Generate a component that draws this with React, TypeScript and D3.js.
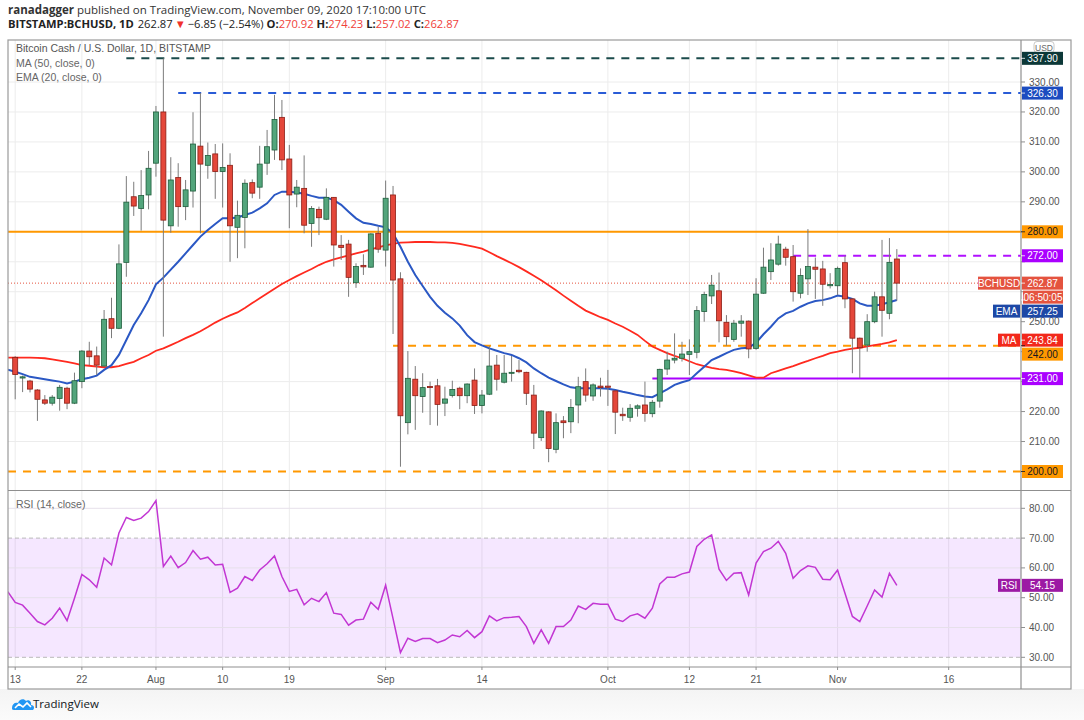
import React from "react";
import * as d3 from "d3";

// ---------- data ----------
const candleStart = "2020-07-13";
const indicatorStart = "2020-07-12";

const opens = [
  238.1, 231.2, 230.2, 227.2, 223.9, 222.8, 224.4, 227.8, 222.8, 230.0,
  240.2, 238.6, 235.2, 251.0, 247.8, 269.8, 291.7, 287.8, 292.3, 302.9,
  320.0, 282.0, 298.1, 288.4, 293.6, 308.6, 302.2, 306.0, 300.1, 302.2,
  281.5, 284.8, 296.4, 294.9, 302.9, 307.3, 318.2, 304.3, 292.6, 294.5,
  282.8, 287.5, 284.2, 291.5, 275.5, 275.9, 263.0, 268.8, 268.2, 279.5,
  273.9, 292.3, 264.3, 216.3, 230.8, 225.0, 228.4, 228.6, 222.8, 225.4,
  227.8, 225.3, 230.5, 222.0, 225.8, 235.5, 229.8, 232.8, 233.8, 233.1,
  225.5, 211.3, 219.9, 207.4, 216.9, 216.6, 222.2, 230.0, 225.2, 228.5,
  228.5, 226.9, 219.1, 218.1, 221.1, 222.2, 219.3, 223.5, 234.2, 237.2,
  237.8, 239.1, 239.8, 253.4, 258.6, 260.3, 249.8, 244.1, 249.5, 250.2,
  241.1, 259.5, 266.7, 269.2, 274.2, 271.7, 259.5, 264.3, 268.2, 267.6,
  262.0, 262.0, 269.7, 257.6, 244.5, 242.2, 250.0, 258.3, 252.8, 270.92,
];
const highs = [
  238.5, 232.0, 230.6, 227.5, 225.5, 225.5, 228.9, 228.3, 233.0, 240.5,
  243.3, 241.7, 253.9, 258.0, 275.8, 298.6, 296.7, 300.6, 307.0, 322.0,
  337.9, 304.9, 302.9, 297.3, 319.9, 326.3, 309.8, 309.3, 309.5, 306.2,
  290.4, 297.5, 297.5, 308.7, 314.0, 325.7, 324.0, 309.0, 297.3, 305.5,
  288.6, 288.4, 294.5, 291.6, 278.9, 277.3, 269.5, 272.5, 279.5, 281.7,
  297.1, 295.3, 266.5, 240.2, 235.2, 232.8, 230.0, 230.9, 228.3, 230.3,
  228.3, 229.4, 234.4, 227.2, 241.9, 238.9, 238.9, 238.6, 237.2, 233.3,
  228.9, 220.4, 220.1, 219.4, 218.5, 224.2, 231.6, 234.4, 229.4, 231.3,
  233.9, 227.1, 221.3, 222.5, 222.4, 230.0, 223.9, 234.3, 240.0, 246.1,
  243.3, 244.1, 255.2, 260.0, 265.6, 266.4, 252.2, 250.6, 252.2, 250.4,
  264.5, 274.7, 276.2, 278.7, 275.0, 275.6, 267.8, 280.9, 271.4, 270.3,
  266.2, 268.4, 272.0, 257.8, 244.7, 252.5, 260.0, 277.3, 277.9, 274.23,
];
const lows = [
  224.1, 226.5, 226.4, 216.9, 222.2, 222.0, 220.3, 220.8, 222.5, 227.8,
  235.5, 232.2, 235.0, 244.5, 247.5, 265.0, 285.3, 280.4, 287.5, 298.4,
  245.0, 279.7, 281.7, 283.9, 288.1, 279.5, 297.7, 291.0, 288.1, 270.0,
  271.2, 274.5, 291.2, 291.0, 299.0, 304.0, 300.6, 281.2, 288.2, 279.5,
  275.0, 278.9, 283.9, 268.4, 270.6, 258.3, 261.3, 265.6, 268.0, 273.0,
  268.4, 245.9, 201.6, 212.4, 213.9, 219.6, 215.5, 215.3, 218.5, 224.7,
  220.8, 222.8, 219.2, 219.4, 225.5, 227.0, 229.4, 230.0, 232.8, 222.2,
  207.5, 210.2, 203.1, 206.1, 211.1, 212.8, 216.1, 223.3, 223.6, 225.0,
  221.9, 212.5, 216.9, 216.6, 218.3, 216.6, 218.1, 221.3, 232.2, 236.1,
  236.7, 232.2, 237.8, 250.0, 255.9, 243.1, 242.0, 243.3, 245.0, 237.8,
  240.6, 259.3, 263.9, 268.7, 268.7, 256.7, 257.8, 258.9, 257.6, 255.3,
  261.1, 258.9, 254.5, 232.8, 231.1, 240.0, 249.5, 245.0, 250.8, 257.02,
];
const closes = [
  232.4, 231.6, 227.5, 224.1, 222.8, 224.8, 228.1, 222.8, 230.3, 240.2,
  238.3, 235.5, 250.8, 247.8, 269.3, 289.9, 288.6, 292.1, 301.2, 320.0,
  283.9, 297.3, 288.4, 294.0, 309.3, 302.6, 305.5, 300.1, 301.5, 282.0,
  285.5, 296.2, 292.9, 302.6, 308.4, 317.5, 304.0, 292.3, 294.9, 282.2,
  287.8, 284.7, 291.5, 275.6, 274.8, 264.8, 268.4, 268.3, 279.3, 274.2,
  291.2, 263.9, 218.6, 231.1, 225.3, 228.0, 228.0, 222.4, 224.2, 227.4,
  225.3, 229.2, 222.0, 225.5, 235.2, 230.8, 232.8, 233.1, 233.3, 226.1,
  212.8, 220.2, 207.7, 216.3, 216.3, 221.4, 228.3, 225.5, 228.9, 228.0,
  228.1, 219.8, 218.6, 221.1, 221.9, 219.4, 223.1, 234.1, 237.2, 237.8,
  239.2, 240.0, 253.7, 259.1, 262.2, 250.3, 245.0, 249.5, 250.2, 240.9,
  259.2, 268.2, 270.6, 275.9, 271.5, 260.0, 265.4, 268.4, 267.5, 262.5,
  262.4, 267.8, 257.6, 244.5, 241.3, 250.0, 258.3, 253.8, 269.8, 262.87,
];
// indicators start one day earlier (Jul 12)
const ema20 = [
  234.0,
  233.3, 232.5, 231.6, 231.2, 230.8, 230.4, 230.0, 229.4, 230.0, 230.8,
  231.3, 232.0, 233.9, 235.5, 238.9, 243.9, 248.9, 252.8, 257.2, 262.5,
  264.7, 267.4, 270.0, 272.8, 275.6, 278.4, 280.6, 282.6, 284.5, 284.5,
  284.8, 285.6, 286.4, 287.8, 289.5, 292.3, 293.4, 293.4, 293.1, 292.7,
  292.0, 291.4, 291.4, 290.6, 289.0, 286.7, 284.5, 283.0, 282.6, 282.0,
  281.5, 279.5, 275.0, 270.0, 265.6, 261.9, 258.3, 255.3, 253.0, 251.1,
  248.7, 245.5, 243.2, 242.1, 241.1, 240.3, 239.5, 238.9, 237.8, 236.4,
  234.4, 232.8, 231.3, 230.2, 229.1, 228.1, 227.8, 227.8, 227.8, 227.8,
  227.6, 227.2, 226.6, 226.1, 225.5, 225.0, 224.8, 226.1, 227.4, 228.9,
  229.8, 230.5, 232.8, 235.0, 237.2, 238.3, 239.5, 240.6, 241.1, 241.3,
  243.0, 245.8, 248.3, 251.1, 252.8, 253.6, 255.0, 256.1, 256.9, 257.2,
  257.8, 258.7, 258.3, 257.6, 256.1, 255.3, 255.3, 255.8, 256.5, 257.25,
];
const ma50 = [
  238.0,
  238.0, 238.0, 238.0, 237.9, 237.8, 237.4, 237.0, 236.6, 236.1, 235.5,
  235.3, 235.0, 234.8, 234.8, 235.2, 235.9, 236.6, 237.8, 238.9, 240.3,
  241.1, 242.2, 243.3, 244.5, 245.6, 246.8, 248.2, 249.7, 251.0, 252.1,
  253.1, 254.6, 256.2, 257.8, 259.4, 261.0, 262.6, 263.9, 265.2, 266.4,
  267.6, 268.9, 270.0, 270.8, 271.5, 272.1, 272.8, 273.4, 274.1, 274.8,
  275.5, 276.0, 276.4, 276.5, 276.6, 276.6, 276.6, 276.5, 276.5, 276.3,
  276.0, 275.5, 275.0, 274.4, 273.2, 271.9, 270.7, 269.5, 268.2, 266.8,
  265.3, 263.8, 262.2, 260.5, 258.7, 257.0, 255.3, 253.7, 252.6, 251.5,
  250.6, 249.4, 248.3, 247.0, 245.6, 243.6, 241.7, 240.6, 239.5, 238.6,
  237.8, 236.8, 235.8, 235.2, 234.6, 234.2, 233.9, 233.4, 232.8, 232.1,
  231.3, 231.3, 232.8, 233.6, 234.4, 235.2, 236.1, 236.9, 237.8, 238.6,
  239.5, 240.0, 240.6, 241.0, 241.3, 241.8, 242.2, 242.6, 243.1, 243.84,
];
const rsi14 = [
  52.0,
  48.4, 47.5, 44.8, 42.0, 40.9, 43.1, 46.5, 42.3, 49.8, 57.8,
  56.0, 53.5, 63.3, 61.0, 71.7, 76.9, 75.9, 76.7, 78.9, 82.6,
  60.5, 64.0, 60.1, 61.8, 65.8, 62.9, 63.6, 61.0, 61.2, 51.8,
  53.2, 57.1, 55.8, 59.3, 61.4, 64.0, 57.1, 52.1, 52.8, 47.6,
  49.8, 48.7, 51.7, 44.8, 44.4, 40.8, 42.5, 42.8, 48.5, 46.1,
  54.2, 43.0, 31.6, 36.4, 35.3, 36.3, 36.3, 34.9, 35.8, 37.5,
  36.9, 39.0, 36.6, 38.6, 43.9, 42.2, 43.3, 43.4, 43.7, 40.3,
  34.7, 39.2, 34.7, 40.3, 40.3, 42.5, 47.2, 46.1, 48.1, 47.8,
  47.8, 42.8, 42.0, 43.9, 44.6, 43.1, 46.5, 54.6, 56.9, 56.9,
  58.0, 58.6, 67.2, 69.6, 71.1, 59.6, 55.8, 58.2, 58.4, 50.9,
  61.6, 65.5, 66.6, 68.9, 64.9, 56.5, 59.1, 60.7, 60.2, 56.2,
  56.0, 59.3, 51.5, 43.7, 42.0, 47.2, 52.6, 50.2, 58.2, 54.15,
];

const xTickDates = [
  "2020-07-13", "2020-07-22", "2020-08-01", "2020-08-10", "2020-08-19", "2020-09-01",
  "2020-09-14", "2020-10-01", "2020-10-12", "2020-10-21", "2020-11-01", "2020-11-16",
];
const xTickLabels = ["13", "22", "Aug", "10", "19", "Sep", "14", "Oct", "12", "21", "Nov", "16"];
const xDomainEnd = "2020-11-16";

const priceTicks = [210, 220, 230, 240, 250, 260, 270, 280, 290, 300, 310, 320, 330];
const rsiGridTicks = [40, 50, 60, 80];
const rsiLabelTicks = [30, 40, 50, 60, 70, 80];

// horizontal levels: value, start date, kind
const levelValues = [337.9, 326.3, 280, 272, 242, 231, 200];
const levelStarts = ["2020-07-28", "2020-08-04", "2020-07-12", "2020-10-26", "2020-09-02", "2020-10-07", "2020-07-12"];
const levelColors = ["#1b4b4b", "#2a5cd6", "#ff9800", "#b110ff", "#ff9800", "#aa00ff", "#ff9800"];
const levelDashed = [true, true, false, true, true, false, true];
const levelBoxColors = ["#0c3838", "#1c4cc0", "#ff9800", "#aa00ff", "#ff9800", "#aa00ff", "#ff9800"];
const levelTextColors = ["#ffffff", "#ffffff", "#131722", "#ffffff", "#131722", "#ffffff", "#131722"];

const lastPrice = 262.87;
const lastEma = 257.25;
const lastMa = 243.84;
const lastRsi = 54.15;
const countdown = "06:50:05";

const FONT = "'Liberation Sans', Arial, sans-serif";
const HFONT = "'Open Sans', 'Liberation Sans', sans-serif";

export default function App() {
  const W = 1084;
  const H = 720;
  const left = 8;
  const right = 1071;
  const axisX = 1021;
  const top = 40;
  const paneSep = 490.5;
  const xAxisTop = 667;
  const bottom = 689;

  const base = Date.parse(candleStart);
  const idxOf = (s: string) => Math.round((Date.parse(s) - base) / 864e5);
  const indOffset = idxOf(indicatorStart);

  const x = d3.scaleLinear().domain([0, idxOf(xDomainEnd)]).range([15.2, 948.7]);
  const y = d3.scaleLinear().domain([200, 330]).range([471.5, 82]);
  const yr = d3.scaleLinear().domain([30, 80]).range([657.3, 508.3]);

  const lineP = (arr: number[], sc: d3.ScaleLinear<number, number>) =>
    d3.line<number>().x((_, i) => x(i + indOffset)).y((d) => sc(d)).curve(d3.curveLinear)(arr) || "";

  const up = "#53a57c";
  const upStroke = "#1f5e3c";
  const dn = "#e4473a";
  const dnStroke = "#8c1d14";
  const bodyW = 5;

  // right axis labels with simple collision avoidance
  type Lab = { v: number; bg: string; fg: string; text: string; tag?: string; tagW?: number; timer?: boolean };
  const labs: Lab[] = levelValues.map((v, i) => ({
    v,
    bg: levelBoxColors[i],
    fg: levelTextColors[i],
    text: v.toFixed(2),
  }));
  labs.push({ v: lastPrice, bg: "#e4533f", fg: "#fff", text: lastPrice.toFixed(2), tag: "BCHUSD", tagW: 42, timer: true });
  labs.push({ v: lastEma, bg: "#1d48a6", fg: "#fff", text: lastEma.toFixed(2), tag: "EMA", tagW: 27 });
  labs.push({ v: lastMa, bg: "#f2281b", fg: "#fff", text: lastMa.toFixed(2), tag: "MA", tagW: 22 });
  const boxH = 13;
  const placed = labs
    .map((l) => ({ ...l, cy: y(l.v) }))
    .sort((a, b) => a.cy - b.cy);
  let prevBottom = -1e9;
  placed.forEach((l) => {
    if (l.cy - boxH / 2 < prevBottom + 1) l.cy = prevBottom + 1 + boxH / 2;
    prevBottom = l.cy + boxH / 2 + (l.timer ? 14 : 0);
  });
  // hide axis tick labels hidden behind the label boxes
  const occupied = placed.map((l) => [l.cy - boxH / 2, l.cy + boxH / 2 + (l.timer ? 14 : 0)]);
  const visibleTicks = priceTicks.filter((t) => {
    const ty = y(t);
    return !occupied.some(([a, b]) => ty + 4 > a && ty - 4 < b);
  });

  const rsiBandTop = yr(70);
  const rsiBandBot = yr(30);

  return (
    <svg
      width={W}
      height={H}
      viewBox={`0 0 ${W} ${H}`}
      style={{ position: "absolute", left: 0, top: 0, background: "#fff" }}
      fontFamily={FONT}
    >
      <defs>
        <clipPath id="pricePane">
          <rect x={left} y={top} width={axisX - left} height={paneSep - top} />
        </clipPath>
        <clipPath id="rsiPane">
          <rect x={left} y={paneSep} width={axisX - left} height={xAxisTop - paneSep} />
        </clipPath>
        <linearGradient id="footer" x1="0" y1="0" x2="0" y2="1">
          <stop offset="0" stopColor="#f4f4f4" />
          <stop offset="1" stopColor="#fbfbfb" />
        </linearGradient>
      </defs>

      <rect x={0} y={0} width={W} height={H} fill="#fff" />
      <rect x={0} y={bottom} width={W} height={H - bottom} fill="url(#footer)" />

      {/* header */}
      <text x={8} y={14} fontSize={11.5} fill="#333" fontFamily={HFONT}>
        <tspan fontWeight="bold">ranadagger</tspan>
        <tspan> published on TradingView.com, November 09, 2020 17:10:00 UTC</tspan>
      </text>
      <text x={8} y={28} fontSize={11.2} fill="#222" fontFamily={HFONT}>
        <tspan fontWeight="bold">BITSTAMP:BCHUSD, 1D</tspan>
        <tspan dx={4}>262.87</tspan>
        <tspan dx={2} fill="#f0302b">▼</tspan>
        <tspan dx={2}>−6.85 (−2.54%)</tspan>
        <tspan dx={3} fontWeight="bold">O:</tspan>
        <tspan fill="#f0413a">270.92</tspan>
        <tspan dx={3} fontWeight="bold">H:</tspan>
        <tspan fill="#f0413a">274.23</tspan>
        <tspan dx={3} fontWeight="bold">L:</tspan>
        <tspan fill="#f0413a">257.02</tspan>
        <tspan dx={3} fontWeight="bold">C:</tspan>
        <tspan fill="#f0413a">262.87</tspan>
      </text>

      {/* grid */}
      {xTickDates.map((d, i) => (
        <line key={"vg" + i} x1={x(idxOf(d))} x2={x(idxOf(d))} y1={top} y2={xAxisTop} stroke="#ececec" strokeWidth={1} />
      ))}
      {priceTicks.map((t) => (
        <line key={"hg" + t} x1={left} x2={axisX} y1={y(t)} y2={y(t)} stroke="#ececec" strokeWidth={1} />
      ))}

      {/* RSI band and grid */}
      <rect x={left} y={rsiBandTop} width={axisX - left} height={rsiBandBot - rsiBandTop} fill="#9915ff" fillOpacity={0.1} />
      {rsiGridTicks.map((t) => (
        <line key={"rg" + t} x1={left} x2={axisX} y1={yr(t)} y2={yr(t)} stroke="#e6e0ea" strokeWidth={1} />
      ))}
      <line x1={left} x2={axisX} y1={rsiBandTop} y2={rsiBandTop} stroke="#b9b9b9" strokeDasharray="4,3" />
      <line x1={left} x2={axisX} y1={rsiBandBot} y2={rsiBandBot} stroke="#b9b9b9" strokeDasharray="4,3" />

      {/* price pane content */}
      <g clipPath="url(#pricePane)">
        {/* levels */}
        {levelValues.map((v, i) => (
          <line
            key={"lv" + i}
            x1={Math.max(left, x(idxOf(levelStarts[i])))}
            x2={axisX}
            y1={y(v)}
            y2={y(v)}
            stroke={levelColors[i]}
            strokeWidth={2}
            strokeDasharray={levelDashed[i] ? "8,7" : undefined}
          />
        ))}
        {/* last price dotted */}
        <line x1={left} x2={axisX} y1={y(lastPrice)} y2={y(lastPrice)} stroke="#e4533f" strokeWidth={1} strokeDasharray="1,2" />

        {/* moving averages */}
        <path d={lineP(ma50, y)} fill="none" stroke="#ff2a1f" strokeWidth={1.8} />
        <path d={lineP(ema20, y)} fill="none" stroke="#2b58c4" strokeWidth={2} />

        {/* candles */}
        {closes.map((c, i) => {
          const o = opens[i];
          const isUp = c >= o;
          const cx = x(i);
          const yTop = y(Math.max(o, c));
          const yBot = y(Math.min(o, c));
          return (
            <g key={"c" + i}>
              <line x1={cx} x2={cx} y1={y(highs[i])} y2={y(lows[i])} stroke="#7b7b7b" strokeWidth={1} />
              <rect
                x={cx - bodyW / 2}
                y={yTop}
                width={bodyW}
                height={Math.max(1, yBot - yTop)}
                fill={isUp ? up : dn}
                stroke={isUp ? upStroke : dnStroke}
                strokeWidth={0.8}
              />
            </g>
          );
        })}
      </g>

      {/* RSI line */}
      <g clipPath="url(#rsiPane)">
        <path d={lineP(rsi14, yr)} fill="none" stroke="#c236d3" strokeWidth={1.5} />
      </g>

      {/* pane legends */}
      <text x={16} y={52} fontSize={10.5} fill="#555">Bitcoin Cash / U.S. Dollar, 1D, BITSTAMP</text>
      <text x={16} y={66.5} fontSize={10.5} fill="#666">MA (50, close, 0)</text>
      <text x={16} y={81} fontSize={10.5} fill="#666">EMA (20, close, 0)</text>
      <text x={16} y={508} fontSize={10.5} fill="#666">RSI (14, close)</text>

      {/* frame and separators */}
      <rect x={left} y={top} width={right - left} height={bottom - top} fill="none" stroke="#9a9a9a" strokeWidth={1.2} />
      <line x1={axisX} x2={axisX} y1={top} y2={bottom} stroke="#8f8f8f" strokeWidth={1.2} />
      <line x1={left} x2={right} y1={paneSep} y2={paneSep} stroke="#8f8f8f" strokeWidth={1.2} />
      <line x1={left} x2={right} y1={xAxisTop} y2={xAxisTop} stroke="#8f8f8f" strokeWidth={1.2} />

      {/* price axis ticks */}
      {priceTicks.map((t) => (
        <line key={"ptl" + t} x1={axisX} x2={axisX + 4} y1={y(t)} y2={y(t)} stroke="#8f8f8f" />
      ))}
      {visibleTicks.map((t) => (
        <text key={"pt" + t} x={axisX + 8} y={y(t) + 3.5} fontSize={10} fill="#555">{t.toFixed(2)}</text>
      ))}
      {/* RSI axis */}
      {rsiLabelTicks.map((t) => (
        <g key={"rt" + t}>
          <line x1={axisX} x2={axisX + 4} y1={yr(t)} y2={yr(t)} stroke="#8f8f8f" />
          <text x={axisX + 8} y={yr(t) + 3.5} fontSize={10} fill="#555">{t.toFixed(2)}</text>
        </g>
      ))}
      {/* x axis */}
      {xTickDates.map((d, i) => (
        <g key={"xt" + i}>
          <line x1={x(idxOf(d))} x2={x(idxOf(d))} y1={xAxisTop} y2={xAxisTop + 3} stroke="#8f8f8f" />
          <text x={x(idxOf(d))} y={683} fontSize={10} fill="#555" textAnchor="middle">{xTickLabels[i]}</text>
        </g>
      ))}

      {/* USD badge */}
      <rect x={1034} y={41.5} width={20} height={11} rx={3} fill="#fff" stroke="#c8c8c8" />
      <text x={1044} y={50.5} fontSize={8.5} fill="#666" textAnchor="middle">USD</text>

      {/* right labels */}
      {placed.map((l, i) => (
        <g key={"lab" + i}>
          {l.tag && (
            <g>
              <rect x={axisX - 1 - (l.tagW || 30)} y={l.cy - boxH / 2} width={l.tagW} height={boxH} fill={l.bg} />
              <text x={axisX - 1 - (l.tagW || 30) / 2} y={l.cy + 3.5} fontSize={10} fill="#fff" textAnchor="middle">{l.tag}</text>
            </g>
          )}
          <rect x={axisX + 1} y={l.cy - boxH / 2} width={41} height={boxH} fill={l.bg} />
          <line x1={axisX} x2={axisX + 4} y1={y(l.v)} y2={y(l.v)} stroke={l.fg} strokeOpacity={0.8} />
          <text x={axisX + 21.5} y={l.cy + 3.5} fontSize={10} fill={l.fg} textAnchor="middle">{l.text}</text>
          {l.timer && (
            <g>
              <rect x={axisX + 2} y={l.cy + boxH / 2 + 1} width={40} height={13} fill={l.bg} />
              <text x={axisX + 22} y={l.cy + boxH / 2 + 11} fontSize={10} fill="#fff" textAnchor="middle">{countdown}</text>
            </g>
          )}
        </g>
      ))}
      {/* RSI label */}
      <rect x={998} y={yr(lastRsi) - boxH / 2} width={22} height={boxH} fill="#9c1aa4" />
      <text x={1009} y={yr(lastRsi) + 3.5} fontSize={10} fill="#fff" textAnchor="middle">RSI</text>
      <rect x={axisX + 1} y={yr(lastRsi) - boxH / 2} width={41} height={boxH} fill="#9c1aa4" />
      <text x={axisX + 21.5} y={yr(lastRsi) + 3.5} fontSize={10} fill="#fff" textAnchor="middle">{lastRsi.toFixed(2)}</text>

      {/* footer logo */}
      <g transform="translate(11,697)">
        <path d="M1 11 C1 7 4 5 7 6 C8 2 13 1 15 4 C17 2 21 4 20 8 C23 8 24 11 22 13 L3 13 C1 13 1 12 1 11 Z" fill="#2196f3" />
        <path d="M4 11 L8 7 L12 10 L16 6 L20 10" fill="none" stroke="#fff" strokeWidth={1.6} />
      </g>
      <text x={33} y={708} fontSize={11.5} fill="#131722" fontFamily={HFONT}>TradingView</text>
    </svg>
  );
}
